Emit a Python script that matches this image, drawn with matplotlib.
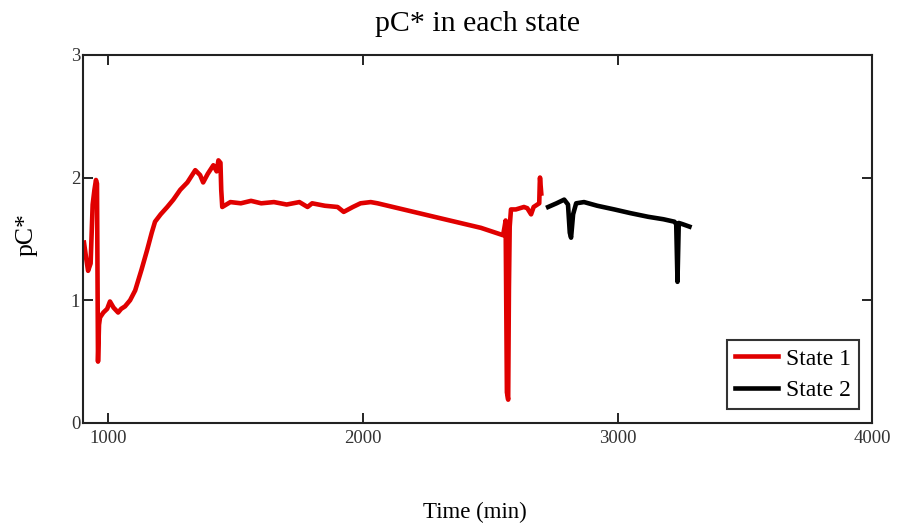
import matplotlib.pyplot as plt

# State 1 (red)
t1 = [904, 912, 920, 930, 938, 945, 951, 955, 959, 963, 967, 980, 995, 1006, 1020, 1038,
      1050, 1065, 1085, 1105, 1130, 1152, 1170, 1183, 1205, 1231, 1255, 1282, 1310, 1341,
      1360, 1372, 1390, 1412, 1425, 1432, 1440, 1443, 1447, 1479, 1520, 1560, 1600, 1650,
      1700, 1750, 1782, 1800, 1850, 1900, 1924, 1960, 1990, 2030, 2057, 2300, 2463, 2550,
      2556, 2560, 2565, 2570, 2573, 2576, 2581, 2600, 2632, 2645, 2660, 2670, 2692, 2694,
      2695, 2700]
pc1 = [1.47, 1.35, 1.24, 1.30, 1.78, 1.90, 1.98, 1.95, 0.50, 0.80, 0.86, 0.90, 0.93, 0.99,
       0.94, 0.90, 0.93, 0.95, 1.00, 1.08, 1.25, 1.41, 1.55, 1.64, 1.70, 1.76, 1.82, 1.90,
       1.96, 2.06, 2.02, 1.96, 2.03, 2.10, 2.05, 2.14, 2.12, 1.90, 1.76, 1.80, 1.79, 1.81,
       1.79, 1.80, 1.78, 1.80, 1.76, 1.79, 1.77, 1.76, 1.72, 1.76, 1.79, 1.80, 1.79, 1.67,
       1.59, 1.53, 1.60, 1.65, 0.25, 0.19, 1.10, 1.60, 1.74, 1.74, 1.76, 1.75, 1.70, 1.76,
       1.79, 1.95, 2.00, 1.87]

# State 2 (black)
t2 = [2727, 2760, 2790, 2805, 2812, 2817, 2825, 2837, 2868, 2920, 2987, 3050, 3120, 3180,
      3223, 3230, 3235, 3240, 3255, 3282]
pc2 = [1.76, 1.79, 1.82, 1.78, 1.55, 1.51, 1.70, 1.79, 1.80, 1.77, 1.74, 1.71, 1.68, 1.66,
       1.64, 1.62, 1.15, 1.63, 1.62, 1.60]

plt.rcParams['font.family'] = ['Liberation Serif', 'DejaVu Serif']

fig = plt.figure(figsize=(9.01, 5.29), dpi=100)
ax = fig.add_axes([0.0921, 0.2004, 0.876, 0.696])

ax.plot(t1, pc1, color='#e00000', lw=3.3, label='State 1')
ax.plot(t2, pc2, color='black', lw=3.3, label='State 2')

ax.set_xlim(900, 4000)
ax.set_ylim(0, 3)
ax.set_xticks([1000, 2000, 3000, 4000])
ax.set_yticks([0, 1, 2, 3])
ax.tick_params(direction='in', length=7, width=1.2, top=True, right=True,
               labelsize=13.5, labelcolor='#333333', pad=5)
ax.tick_params(axis='y', pad=2)
for s in ax.spines.values():
    s.set_linewidth(1.5)
    s.set_color('#222222')

fig.text(0.530, 0.955, 'pC* in each state', ha='center', va='center', fontsize=21.5)
fig.text(0.527, 0.032, 'Time (min)', ha='center', va='center', fontsize=16.5)
fig.text(0.030, 0.556, 'pC*', ha='center', va='center', fontsize=18.5, rotation=90)

leg = ax.legend(loc='lower right', bbox_to_anchor=(0.983, 0.038), fontsize=17,
                frameon=True, fancybox=False, borderpad=0.33, handlelength=1.8,
                handletextpad=0.35, labelspacing=0.42, borderaxespad=0)
leg.get_frame().set_edgecolor('black')
leg.get_frame().set_linewidth(1.5)

fig.savefig('out.png', dpi=100)
